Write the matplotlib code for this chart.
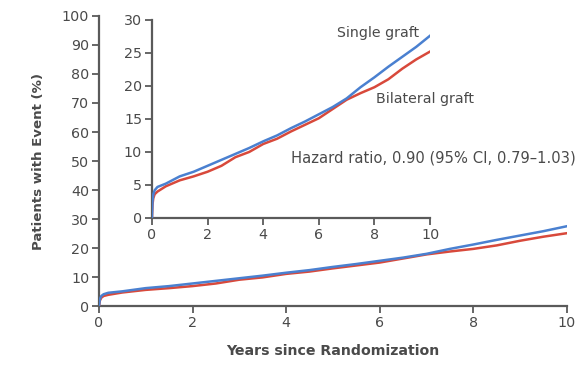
import matplotlib
matplotlib.use("Agg")
import matplotlib.pyplot as plt

plt.rcParams['font.family'] = ['DejaVu Sans']

# Cumulative incidence (%) by years since randomization
years = [0, 0.02, 0.05, 0.1, 0.2, 0.5, 1, 1.5, 2, 2.5, 3, 3.5, 4, 4.5, 5,
         5.5, 6, 6.5, 7, 7.5, 8, 8.5, 9, 9.5, 10]
single_graft = [0, 2.5, 3.6, 4.2, 4.7, 5.2, 6.3, 7.0, 7.9, 8.8, 9.7, 10.6, 11.6,
                12.5, 13.6, 14.6, 15.7, 16.8, 18.1, 19.8, 21.3, 22.9, 24.4, 25.9, 27.6]
bilateral_graft = [0, 2.0, 3.0, 3.6, 4.0, 4.8, 5.7, 6.3, 7.0, 7.9, 9.2, 10.0, 11.2,
                   12.0, 13.1, 14.1, 15.1, 16.5, 17.9, 18.9, 19.8, 21.0, 22.6, 24.0, 25.2]

main_yticks = list(range(0, 101, 10))
inset_yticks = list(range(0, 31, 5))
xticks = list(range(0, 11, 2))

BLUE = '#4a80d0'
RED = '#d8493b'
AX = '#5a5a5a'
TXT = '#4a4a4a'

fig = plt.figure(figsize=(5.82, 3.67), dpi=100)


def style(ax, fs):
    for s in ('top', 'right'):
        ax.spines[s].set_visible(False)
    for s in ('left', 'bottom'):
        ax.spines[s].set_color(AX)
        ax.spines[s].set_linewidth(1.6)
    ax.tick_params(axis='both', direction='out', length=5, width=1.3,
                   color=AX, labelcolor=TXT, labelsize=fs, pad=2)


ax = fig.add_axes([0.170, 0.165, 0.804, 0.792])
ax.plot(years, bilateral_graft, color=RED, lw=1.8, zorder=3)
ax.plot(years, single_graft, color=BLUE, lw=1.8, zorder=4)
ax.set_xlim(0, 10)
ax.set_ylim(0, 100)
ax.set_xticks(xticks)
ax.set_yticks(main_yticks)
style(ax, 10.3)
ax.set_ylabel('Patients with Event (%)', fontsize=9.6, fontweight='bold',
              color=TXT, labelpad=12)
ax.set_xlabel('Years since Randomization', fontsize=10.2, fontweight='bold',
              color=TXT, labelpad=10)

ins = fig.add_axes([0.261, 0.406, 0.478, 0.540])
ins.plot(years, bilateral_graft, color=RED, lw=1.8, zorder=3)
ins.plot(years, single_graft, color=BLUE, lw=1.8, zorder=4)
ins.set_xlim(0, 10)
ins.set_ylim(0, 30)
ins.set_xticks(xticks)
ins.set_yticks(inset_yticks)
style(ins, 10.3)
ins.patch.set_alpha(0)

ins.text(9.6, 27.0, 'Single graft', fontsize=10.2, color=TXT, ha='right', va='bottom')
ins.text(8.05, 16.9, 'Bilateral graft', fontsize=10.2, color=TXT, ha='left', va='bottom')
ins.text(5.0, 8.0, 'Hazard ratio, 0.90 (95% CI, 0.79\u20131.03)', fontsize=10.6,
         color=TXT, ha='left', va='bottom')

fig.savefig('out.png', dpi=100)
